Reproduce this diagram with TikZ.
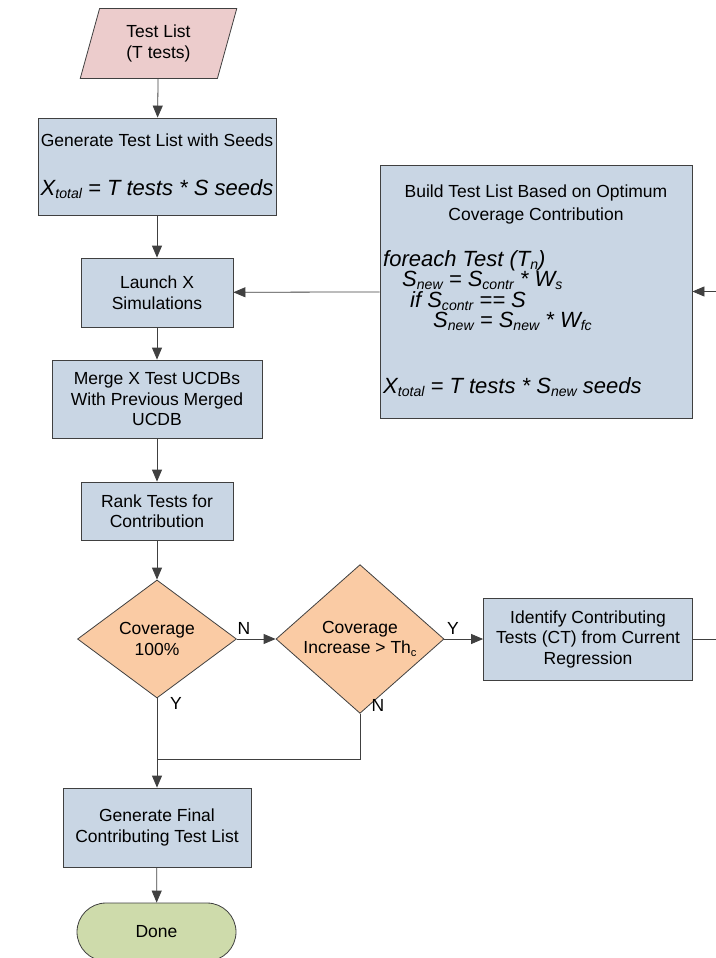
\documentclass[tikz,border=0pt]{standalone}
\usepackage{fontspec}
\usepackage{graphicx}
\setmainfont{Liberation Sans}
\usetikzlibrary{shapes.geometric, shapes.misc, arrows.meta}

\definecolor{listpink}{RGB}{236,204,204}
\definecolor{procblue}{RGB}{201,214,228}
\definecolor{decorange}{RGB}{250,203,164}
\definecolor{donegreen}{RGB}{206,219,171}
\definecolor{edgegray}{RGB}{64,64,64}

\newcommand{\bigit}{\fontsize{22}{26}\selectfont\itshape}
\newcommand{\lowidx}[1]{\raisebox{-0.16em}{\scalebox{0.64}{#1}}}

\begin{document}
\begin{tikzpicture}[x = 1pt, y = -1pt,
	every node/.style = {font = \fontsize{17.5}{20.5}\selectfont, inner sep = 0pt},
	outline/.style = {draw = edgegray, line width = 0.8pt, align = center},
	proc/.style = {outline, fill = procblue},
	decision/.style = {outline, diamond, fill = decorange},
	formula/.style = {anchor = base west, font = \bigit, text height = 15pt, text depth = 2pt},
	flow/.style = {draw = edgegray, line width = 0.8pt, -{Triangle[length = 12pt, width = 10pt]}},
	line/.style = {draw = edgegray, line width = 0.8pt}]

	% Page

	\useasboundingbox (0, 0) rectangle (715, 958);

	% Main column

	\node [outline, trapezium, trapezium left angle = 74, trapezium right angle = 106, trapezium stretches = true, fill = listpink, minimum width = 157, minimum height = 70] (list) at (158.5, 43.5) {Test List\\(T tests)};
	\node [proc, minimum width = 238, minimum height = 97] (gen) at (157, 166.5) {Generate Test List with Seeds\\[28pt]{\bigit X\lowidx{total} = T tests * S seeds}};
	\node [proc, minimum width = 152, minimum height = 69] (launch) at (157, 292.5) {Launch X\\Simulations};
	\node [proc, minimum width = 210, minimum height = 78] (merge) at (157, 399) {Merge X Test UCDBs\\With Previous Merged\\UCDB};
	\node [proc, minimum width = 152, minimum height = 58] (rank) at (157, 511) {Rank Tests for\\Contribution};

	% Decisions

	\node [decision, minimum width = 159, minimum height = 118] (cov) at (157, 639) {Coverage\\100\%};
	\node [decision, minimum width = 168, minimum height = 127] (inc) at (360, 639) {Coverage\\Increase > Th\lowidx{c}};
	\node [proc, minimum width = 209, minimum height = 82] (ident) at (588, 639) {Identify Contributing\\Tests (CT) from Current\\Regression};

	% End of flow

	\node [proc, minimum width = 188, minimum height = 79] (final) at (157, 827.5) {Generate Final\\Contributing Test List};
	\node [outline, rounded rectangle, fill = donegreen, minimum width = 159, minimum height = 58] (done) at (156.5, 932) {Done};

	% Seed update box

	\node [proc, minimum width = 312, minimum height = 253] (build) at (536, 291.5) {};
	\node [anchor = base] (bt1) at (536, 197) {Build Test List Based on Optimum};
	\node [anchor = base] (bt2) at (536, 220) {Coverage Contribution};
	\node [formula] (bf1) at (383, 266) {foreach Test (T\lowidx{n})};
	\node [formula] (bf2) at (402, 286) {S\lowidx{new} = S\lowidx{contr} * W\lowidx{s}};
	\node [formula] (bf3) at (410, 307) {if S\lowidx{contr} == S};
	\node [formula] (bf4) at (433, 327) {S\lowidx{new} = S\lowidx{new} * W\lowidx{fc}};
	\node [formula] (bf5) at (383, 393) {X\lowidx{total} = T tests * S\lowidx{new} seeds};

	% Connectors

	\draw [flow] (list) -- (gen);
	\draw [flow] (gen) -- (launch);
	\draw [flow] (launch) -- (merge);
	\draw [flow] (merge) -- (rank);
	\draw [flow] (rank) -- (cov);
	\draw [flow] (cov) -- (inc);
	\draw [flow] (inc) -- (ident);
	\draw [flow] (cov) -- (final);
	\draw [flow] (final) -- (done);
	\draw [flow] (build) -- (launch);

	\coordinate (join) at (157, 759);
	\coordinate (loop) at (740, 639);
	\draw [line] (inc.south) |- (join);
	\draw [flow] (ident.east) -- (loop) |- (build.east);

	% Branch labels

	\node (n1) at (244, 628) {N};
	\node (y1) at (176, 703) {Y};
	\node (y2) at (453, 628) {Y};
	\node (n2) at (378, 705) {N};

\end{tikzpicture}
\end{document}
